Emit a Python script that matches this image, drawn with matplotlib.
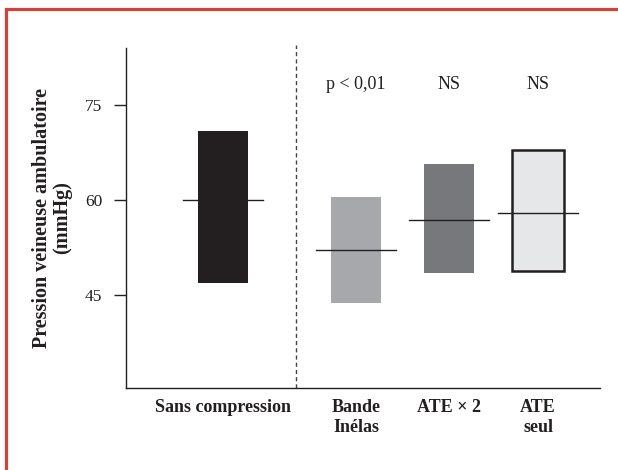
import matplotlib
matplotlib.use("Agg")
import matplotlib.pyplot as plt
from matplotlib.lines import Line2D

plt.rcParams['font.family'] = ['Liberation Serif', 'DejaVu Serif']

categories = ["Sans compression", "Bande\nInélas", "ATE × 2", "ATE\nseul"]
lows = [46.9, 43.7, 48.5, 48.8]
highs = [71.0, 60.5, 65.7, 67.9]
means = [60.0, 52.0, 56.8, 58.0]
annotations = ["", "p < 0,01", "NS", "NS"]
yticks = [45, 60, 75]

positions = [1.94, 4.60, 6.46, 8.24]
colors = ["#231f20", "#a7a8ab", "#77787b", "#e6e7e8"]
edges = [None, None, None, "#231f20"]

fig = plt.figure(figsize=(6.18, 4.70), dpi=100)
ax = fig.add_axes([126/618, 1-388/470, (600-126)/618, (388-48)/470])
ax.set_xlim(0, 9.48)
ax.set_ylim(30.2, 84.1)

for x, lo, hi, m, c, e in zip(positions, lows, highs, means, colors, edges):
    if e:
        ax.bar(x, hi-lo, bottom=lo, width=1.04, color=c,
               edgecolor=e, linewidth=1.8, zorder=2)
    else:
        ax.bar(x, hi-lo, bottom=lo, width=1.0, color=c, linewidth=0, zorder=2)
    ax.plot([x-0.8, x+0.8], [m, m], color="#231f20", lw=1.0, zorder=3)

for x, t in zip(positions, annotations):
    if t:
        ax.text(x, 78.3, t, ha='center', va='center', fontsize=13, color="#231f20")

ax.plot([3.4, 3.4], [30.2, 84.6], ls=(0, (3, 2.2)), color="#444444", lw=1.0,
        clip_on=False, zorder=1)

ax.spines['top'].set_visible(False)
ax.spines['right'].set_visible(False)
for s in ('left', 'bottom'):
    ax.spines[s].set_linewidth(1.0)
    ax.spines[s].set_color("#231f20")

ax.set_yticks(yticks)
ax.set_yticklabels([str(v) for v in yticks], fontsize=12.5, color="#231f20")
ax.tick_params(axis='y', direction='out', length=9, width=1.0, pad=8, color="#231f20")
ax.set_xticks(positions)
ax.set_xticklabels(categories, fontsize=13, fontweight='bold', color="#231f20",
                   linespacing=1.2, va='top')
ax.tick_params(axis='x', length=0, pad=8)

fig.text(52/618, 1-218/470, "Pression veineuse ambulatoire\n(mmHg)", rotation=90,
         ha='center', va='center', fontsize=14.5, fontweight='bold',
         color="#231f20", linespacing=1.0, multialignment='center')

# red frame lines (top and left)
fig.add_artist(Line2D([6/618, 6/618], [0, 1-9/470], color="#e8392f", lw=2.2,
                      transform=fig.transFigure))
fig.add_artist(Line2D([6/618, 1], [1-9/470, 1-9/470], color="#e8392f", lw=2.2,
                      transform=fig.transFigure))

fig.savefig("out.png", dpi=100)
